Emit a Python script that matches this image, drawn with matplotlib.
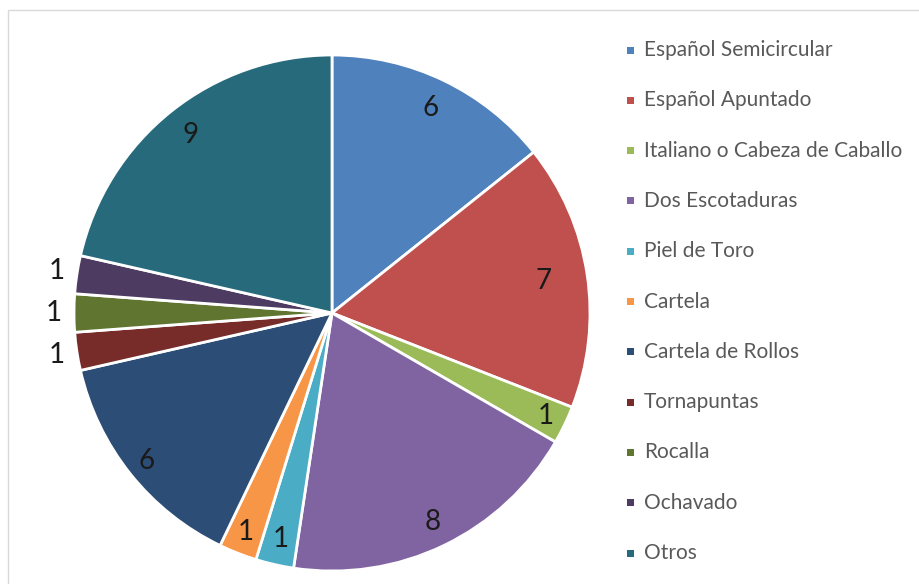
import matplotlib
matplotlib.use("Agg")
import matplotlib.pyplot as plt
from matplotlib.patches import Rectangle
import numpy as np

categories = ["Español Semicircular", "Español Apuntado", "Italiano o Cabeza de Caballo",
              "Dos Escotaduras", "Piel de Toro", "Cartela", "Cartela de Rollos",
              "Tornapuntas", "Rocalla", "Ochavado", "Otros"]
values = [6, 7, 1, 8, 1, 1, 6, 1, 1, 1, 9]
colors = ["#4F81BD", "#C0504D", "#9BBB59", "#8064A2", "#4BACC6", "#F79646",
          "#2C4D75", "#772C2A", "#5F7530", "#4D3B62", "#276A7C"]
label_dist = [0.88, 0.83, 0.92, 0.90, 0.90, 0.91, 0.92, 1.08, 1.08, 1.08, 0.88]

plt.rcParams['font.family'] = ['Lato', 'DejaVu Sans']

W, H = 920, 584
fig = plt.figure(figsize=(W / 100, H / 100), dpi=100)
fig.patch.set_facecolor("white")

cx, cy, r = 332, 313, 258
ax = fig.add_axes([(cx - r) / W, (H - cy - r) / H, 2 * r / W, 2 * r / H])
wedges, _ = ax.pie(values, colors=colors, startangle=90, counterclock=False, radius=1,
                   wedgeprops=dict(edgecolor="white", linewidth=2))
ax.set_xlim(-1, 1)
ax.set_ylim(-1, 1)
ax.set_aspect("auto")
ax.axis("off")

total = sum(values)
cum = np.cumsum([0] + values)
for i, v in enumerate(values):
    mid = 90 - 360 * (cum[i] + v / 2) / total
    d = label_dist[i]
    x, y = d * np.cos(np.radians(mid)), d * np.sin(np.radians(mid))
    ax.text(x, y, str(v), ha="center", va="center", fontsize=20, color="#1a1a1a")

# legend
x0, y0, dy = 631, 50, 50.3
for i, (c, lab) in enumerate(zip(colors, categories)):
    yy = y0 + i * dy
    fig.add_artist(Rectangle(((x0 - 3.5) / W, (H - yy - 3.5) / H), 7 / W, 7 / H,
                             transform=fig.transFigure, facecolor=c, edgecolor="none"))
    fig.text((x0 + 13) / W, (H - yy) / H, lab, ha="left", va="center",
             fontsize=15, color="#595959")

# chart border
fig.add_artist(Rectangle((8 / W, -0.01), 1.0, (H - 10) / H + 0.01, transform=fig.transFigure,
                         facecolor="none", edgecolor="#d9d9d9", linewidth=1))

fig.savefig("out.png", dpi=100)
